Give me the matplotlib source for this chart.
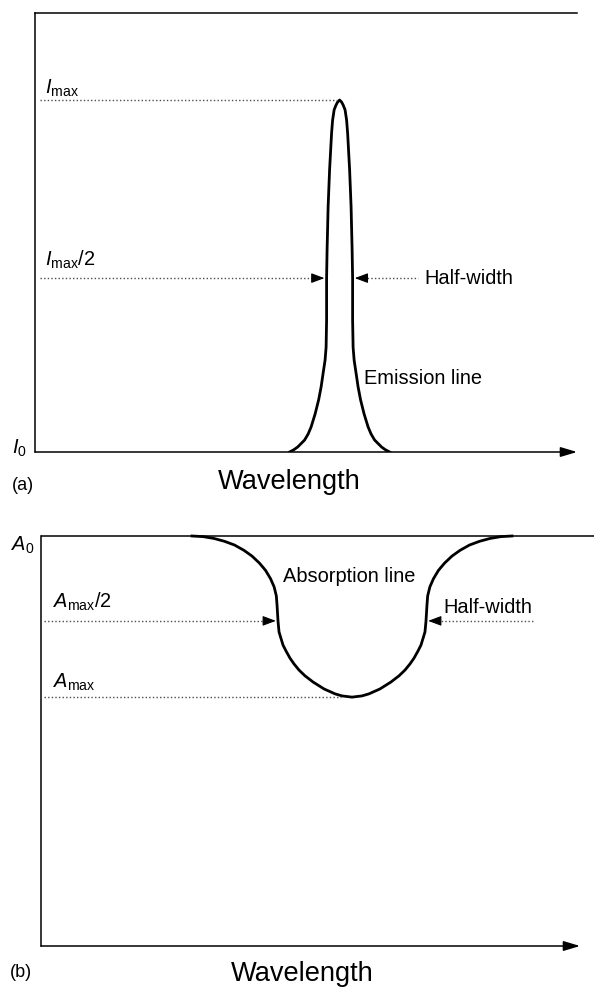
import matplotlib
matplotlib.use("Agg")
import matplotlib.pyplot as plt

plt.rcParams["font.family"] = ["Liberation Sans", "DejaVu Sans"]
plt.rcParams["mathtext.fontset"] = "custom"
plt.rcParams["mathtext.rm"] = "Liberation Sans"
plt.rcParams["mathtext.it"] = "Liberation Sans:italic"

# (a) emission line: relative intensity vs. half-width of the profile (wavelength units),
# listed from the peak down to the baseline
em_center = 56.2
em_intensity = [1.000, 0.994, 0.986, 0.972, 0.943, 0.906, 0.801, 0.696, 0.574, 0.494,
                0.375, 0.298, 0.261, 0.224, 0.185, 0.148, 0.108, 0.071, 0.051,
                0.034, 0.014, 0.006, 0.000]
em_halfwidth = [0.00, 0.37, 0.65, 1.01, 1.29, 1.48, 1.85, 2.12, 2.31, 2.40,
                2.40, 2.49, 2.68, 3.04, 3.41, 3.87, 4.52, 5.26, 5.81,
                6.46, 7.75, 8.49, 9.23]

# (b) absorption line: signal level (A0 = 1) vs. half-width, listed from the
# bottom of the dip up to the continuum
abs_center = 57.7
abs_level = [0.607, 0.610, 0.615, 0.627, 0.644, 0.659, 0.673, 0.688, 0.702, 0.7195,
             0.734, 0.766, 0.793, 0.832, 0.854, 0.876, 0.896, 0.916, 0.934, 0.951,
             0.965, 0.978, 0.987, 0.994, 0.9985, 1.000]
abs_halfwidth = [0.00, 1.86, 3.15, 5.19, 7.24, 8.72, 9.83, 10.76, 11.50, 12.24,
                 12.80, 13.54, 13.73, 13.91, 14.04, 14.45, 15.12, 16.03, 17.18, 18.55,
                 20.04, 21.80, 23.65, 25.60, 27.64, 29.68]

W, H = 594, 988
FS = 14.4
DOT = dict(color="0.3", lw=1.0, ls=(0, (1, 1.6)))
HEAD = dict(arrowstyle="-|>,head_length=0.8,head_width=0.3", color="k",
            lw=0.8, shrinkA=0, shrinkB=0, mutation_scale=10)


def profile(center, hw, level):
    # lists run from the line centre outwards; mirror them into one curve
    xs = [center - h for h in reversed(hw)] + [center + h for h in hw[1:]]
    ys = list(reversed(level)) + list(level[1:])
    return xs, ys


def head(ax, tip, y, direction):
    # solid arrowhead at the end of a dotted leader
    ax.annotate("", xy=(tip, y), xytext=(tip - direction * 1.5, y), arrowprops=HEAD)


def axis_arrow(ax):
    ax.annotate("", xy=(1.0, 0), xytext=(0, 0), xycoords="axes fraction",
                arrowprops=dict(arrowstyle="-|>,head_length=1.0,head_width=0.3",
                                color="k", lw=1.1, shrinkA=0, shrinkB=0,
                                mutation_scale=10))


def style(ax):
    ax.set_xticks([])
    ax.set_yticks([])
    ax.spines["right"].set_visible(False)
    ax.spines["bottom"].set_visible(False)
    for s in ("left", "top"):
        ax.spines[s].set_linewidth(1.1)
    ax.patch.set_alpha(0)


fig = plt.figure(figsize=(W / 100, H / 100), dpi=100)

# ---------- (a) ----------
ax1 = fig.add_axes([35 / W, 1 - 452 / H, 542 / W, 439 / H])
style(ax1)
ax1.set_xlim(0, 100)
ax1.set_ylim(0, 1.2472)
axis_arrow(ax1)

xs, ys = profile(em_center, em_halfwidth, em_intensity)
ax1.plot(xs, ys, color="k", lw=2.0, solid_joinstyle="round")

ax1.plot([0.9, em_center - 0.5], [1.0, 1.0], **DOT)
half = 0.494
lx = em_center - 2.40 - 0.4
rx = em_center + 2.40 + 0.4
ax1.plot([0.9, lx - 1.0], [half, half], **DOT)
ax1.plot([rx + 1.0, 70.7], [half, half], **DOT)
head(ax1, lx, half, +1)
head(ax1, rx, half, -1)

ax1.text(1.85, 1.034, r"$I_{\mathrm{max}}$", fontsize=FS, va="center")
ax1.text(1.85, 0.545, r"$I_{\mathrm{max}}/2$", fontsize=FS, va="center")
ax1.text(-4.2, 0.01, r"$I_0$", fontsize=FS, va="center", clip_on=False)
ax1.text(71.8, half, "Half-width", fontsize=FS, va="center")
ax1.text(60.7, 0.210, "Emission line", fontsize=FS, va="center")

fig.text(12 / W, 1 - 485 / H, "(a)", fontsize=13, va="center")
fig.text(289 / W, 1 - 482 / H, "Wavelength", fontsize=19.6, ha="center", va="center")

# ---------- (b) ----------
ax2 = fig.add_axes([41 / W, 1 - 946 / H, 539 / W, 410 / H])
style(ax2)
ax2.spines["top"].set_visible(False)
ax2.set_xlim(0, 100)
ax2.set_ylim(0, 1.0)
axis_arrow(ax2)
ax2.plot([0, 1.03], [1, 1], transform=ax2.transAxes, color="k", lw=1.1,
         clip_on=False, solid_capstyle="butt")

xs, ys = profile(abs_center, abs_halfwidth, abs_level)
ax2.plot(xs, ys, color="k", lw=2.0, solid_joinstyle="round", clip_on=False)

amin = abs_level[0]
ax2.plot([0.56, abs_center - 2.0], [amin, amin], **DOT)
half2 = 0.793
lx = abs_center - 13.73 - 0.4
rx = abs_center + 13.73 + 0.4
ax2.plot([0.56, lx - 1.0], [half2, half2], **DOT)
ax2.plot([rx + 1.0, 91.5], [half2, half2], **DOT)
head(ax2, lx, half2, +1)
head(ax2, rx, half2, -1)

ax2.text(-5.57, 0.978, r"$A_0$", fontsize=FS, va="center", clip_on=False)
ax2.text(2.2, 0.839, r"$A_{\mathrm{max}}/2$", fontsize=FS, va="center")
ax2.text(2.2, 0.644, r"$A_{\mathrm{max}}$", fontsize=FS, va="center")
ax2.text(74.6, 0.826, "Half-width", fontsize=FS, va="center")
ax2.text(57.2, 0.900, "Absorption line", fontsize=FS, ha="center", va="center")

fig.text(10 / W, 1 - 972 / H, "(b)", fontsize=13, va="center")
fig.text(302 / W, 1 - 974 / H, "Wavelength", fontsize=19.6, ha="center", va="center")

fig.savefig("out.png", dpi=100)
